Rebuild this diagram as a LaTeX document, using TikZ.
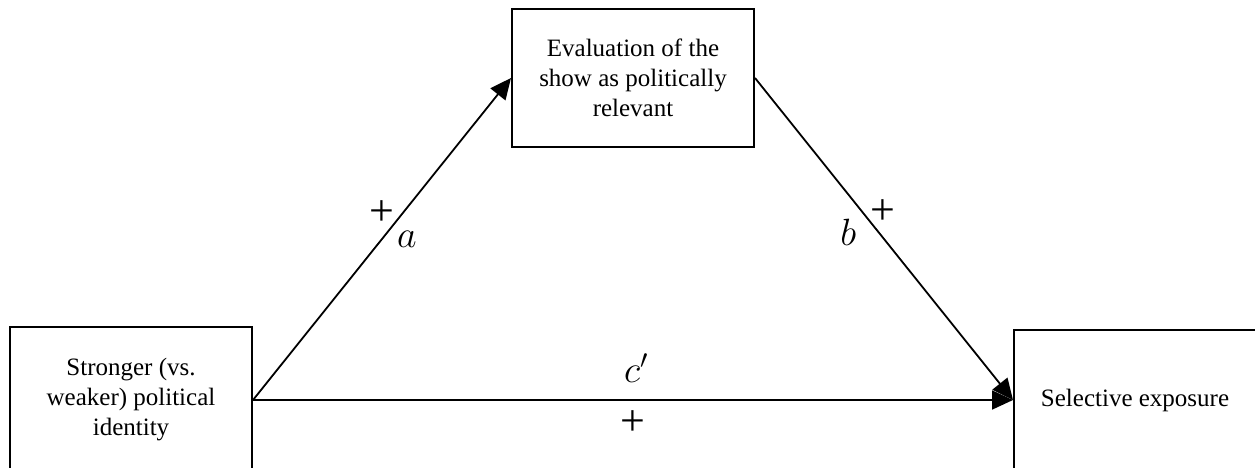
\RequirePackage{fix-cm}
\documentclass[tikz,border=0pt]{standalone}
\usepackage{amsmath}
\usepackage{fontspec}
\setmainfont{Liberation Serif}
\usetikzlibrary{
    arrows.meta
}
\tikzset{
    >={Triangle[length=21pt,width=19pt]},
    caja/.style={
        draw,
        line width=2pt,
        minimum width=242pt,
        align=center,
        font=\fontsize{25}{30}\selectfont
    },
    signo/.style={
        font=\fontsize{44}{48}\selectfont
    },
    coef/.style={
        font=\fontsize{38}{44}\selectfont
    }
}

\begin{document}
\begin{tikzpicture}[
    x=1pt,
    y=1pt,
    line width=1.8pt
]
    \useasboundingbox (0,0) rectangle (1255,-468);
    \clip (0,0) rectangle (1255,-468);

    % Variables
    \node[caja, minimum height=146pt] (id) at (131,-400)
        {Stronger (vs.\\weaker) political\\identity};
    \node[caja, minimum height=138pt] (ev) at (633,-78)
        {Evaluation of the\\show as politically\\relevant};
    \node[caja, minimum height=140pt] (se) at (1135,-400)
        {Selective exposure};

    % Efectos
    \path[->]

        % Camino a
        (id.east)
            edge node[signo, pos=0.58, xshift=-21pt] {+}
                 node[coef, pos=0.5, xshift=25pt] {$a$} (ev.west)

        % Efecto directo
        (id.east)
            edge node[coef, pos=0.5, anchor=south, inner sep=0pt,
                      xshift=3pt, yshift=17pt] {$c'$}
                 node[signo, pos=0.5, yshift=-23pt] {+} (se.west)

        % Camino b
        (ev.east)
            edge node[signo, pos=0.416, xshift=21pt] {+}
                 node[coef, pos=0.478, xshift=-30pt] {$b$} (se.west);

\end{tikzpicture}
\end{document}
